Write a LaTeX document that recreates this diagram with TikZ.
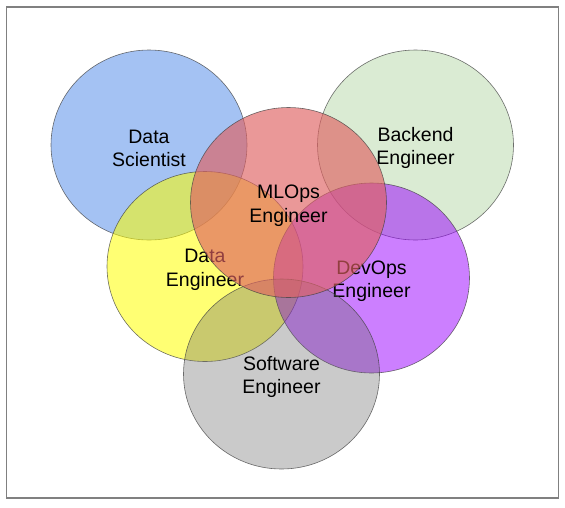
\documentclass[tikz,border=0pt]{standalone}
\usepackage{fontspec}
\setmainfont{Liberation Sans}
\usetikzlibrary{shapes.geometric}
\definecolor{cblue}{HTML}{4A86E8}
\definecolor{cgreen}{HTML}{B6D7A8}
\definecolor{cyellow}{HTML}{FFFF00}
\definecolor{cpurple}{HTML}{9900FF}
\definecolor{cgray}{HTML}{666666}
\definecolor{cred}{HTML}{DF6161}
\definecolor{framegray}{HTML}{808080}
\newcommand{\vennstrut}{\rule{0pt}{20pt}}
\begin{document}
\begin{tikzpicture}[x=1pt,y=-1pt,
  venn/.style={ellipse, draw=black!75, draw opacity=0.75, line width=0.6pt,
    minimum width=196pt, minimum height=190pt, inner sep=0pt, align=center,
    text=black, text opacity=1, font=\fontsize{19.5}{23.5}\selectfont},
  frame/.style={draw=framegray, line width=1.4pt}]
\useasboundingbox (0,0) rectangle (565,507);
\draw[frame] (6.5,7) rectangle (558.5,498);
\node[venn, fill=cblue, fill opacity=0.5] (ds) at (149,145) {\vennstrut Data\\Scientist};
\node[venn, fill=cgreen, fill opacity=0.5] (be) at (415.5,145) {\vennstrut Backend\\Engineer};
\node[venn, fill=cyellow, fill opacity=0.55] (de) at (205,266.5) {\vennstrut Data\\Engineer};
\node[venn, fill=cpurple, fill opacity=0.5] (dev) at (371.5,278) {\vennstrut DevOps\\Engineer};
\node[venn, fill=cgray, fill opacity=0.35] (se) at (281.5,374) {\vennstrut Software\\Engineer};
\node[venn, fill=cred, fill opacity=0.65] (ml) at (288.5,202.5) {\vennstrut MLOps\\Engineer};
\end{tikzpicture}
\end{document}
